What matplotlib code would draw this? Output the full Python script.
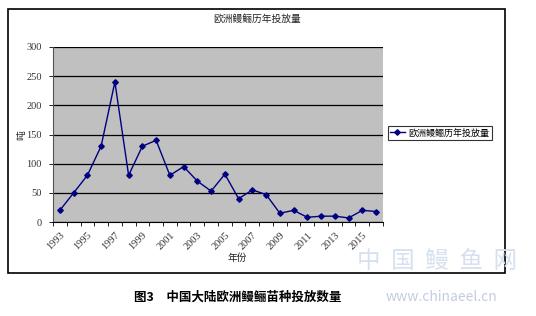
import numpy as np
import matplotlib
matplotlib.use("Agg")
import matplotlib.pyplot as plt
from matplotlib.patches import Rectangle

plt.rcParams['font.family'] = ['Noto Sans CJK SC', 'DejaVu Sans']

# data
years = [str(y) for y in range(1993, 2017)]
values = [20, 50, 80, 130, 240, 80, 130, 140, 80, 95, 70, 53,
          82, 40, 55, 47, 15, 20, 8, 10, 10, 7, 20, 18]
y_ticks = [0, 50, 100, 150, 200, 250, 300]

title = "欧洲鳗鲡历年投放量"
series_name = "欧洲鳗鲡历年投放量"
x_label = "年份"
y_label = "吨"
caption = "图3　中国大陆欧洲鳗鲡苗种投放数量"

W, H = 536, 316
fig = plt.figure(figsize=(W / 100, H / 100), dpi=100)


def px(x0, y0, x1, y1):
    # pixel box (top-left origin) -> figure fraction rect
    return [x0 / W, 1 - y1 / H, (x1 - x0) / W, (y1 - y0) / H]


# outer chart frame
r = px(8, 9, 505, 273)
fig.patches.append(Rectangle((r[0], r[1]), r[2], r[3], transform=fig.transFigure,
                             facecolor="none", edgecolor="black", linewidth=1.2, zorder=0))

ax = fig.add_axes(px(53, 47, 383, 222))
ax.set_facecolor("#c0c0c0")
x = np.arange(len(years))
ax.plot(x, values, color="#000080", linewidth=1.0, marker="D", markersize=2.8,
        label=series_name, zorder=3)

num_font = dict(family="Liberation Serif", size=7.5, color="#333333")

ax.set_xlim(-0.5, len(years) - 0.5)
ax.set_ylim(0, 300)
ax.set_yticks(y_ticks)
ax.set_yticklabels([str(v) for v in y_ticks], fontdict=num_font)
ax.yaxis.grid(True, color="black", linewidth=0.9)
ax.set_axisbelow(True)
ax.tick_params(axis="y", length=3, width=0.6, pad=5)

ax.set_xticks(x[::2])
ax.set_xticklabels(years[::2], fontdict=num_font, rotation=45, ha="right",
                   rotation_mode="anchor")
ax.set_xticks(np.arange(-0.5, len(years), 1.0), minor=True)
ax.tick_params(axis="x", which="major", length=0, pad=6)
ax.tick_params(axis="x", which="minor", length=3, width=0.6, direction="out")

for s in ["top", "right"]:
    ax.spines[s].set_visible(False)
ax.spines["left"].set_color("#555555")
ax.spines["bottom"].set_color("black")

fig.text(257 / W, 1 - 19 / H, title, fontsize=7, ha="center", va="center", color="#222222")
fig.text(237 / W, 1 - 258 / H, x_label, fontsize=7, ha="center", va="center", color="#222222")
fig.text(21 / W, 1 - 135 / H, y_label, fontsize=7, ha="center", va="center",
         rotation=90, color="#222222")

leg = ax.legend(loc="upper left", bbox_to_anchor=(388 / W, 1 - 126 / H),
                bbox_transform=fig.transFigure, fontsize=6.5, frameon=True,
                fancybox=False, borderpad=0.25, handlelength=1.6, handletextpad=0.4,
                borderaxespad=0)
leg.get_frame().set_edgecolor("black")
leg.get_frame().set_linewidth(0.8)

# watermark
fig.text(437 / W, 1 - 262 / H, "中  国  鳗  鱼  网", fontsize=17, ha="center", va="center",
         color="#d6e0ef", zorder=5)
fig.text(442 / W, 1 - 297 / H, "www.chinaeel.cn", fontsize=10, ha="center", va="center",
         color="#c3cde0")

fig.text(238 / W, 1 - 297 / H, caption, fontsize=9, fontweight="bold", ha="center",
         va="center", color="black")

fig.savefig("out.png", dpi=100)
